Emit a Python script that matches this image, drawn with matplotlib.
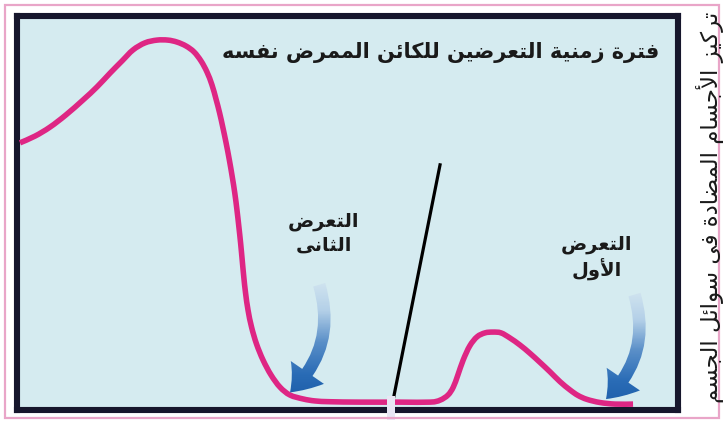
import numpy as np
import matplotlib
matplotlib.use("Agg")
import matplotlib.pyplot as plt
from matplotlib.patches import FancyArrowPatch, Rectangle, PathPatch
from matplotlib.path import Path

# ------------- DATA (arbitrary units 0..100) -------------
time = [0.45, 2.72, 5.0, 7.41, 10.0, 12.1, 14.07, 15.89, 17.55, 19.36, 21.18, 22.84, 24.21,
        25.57, 26.78, 27.84, 28.74, 29.50, 30.11, 30.65, 31.13, 31.63, 32.13, 32.57, 32.95,
        33.28, 33.57, 33.83, 34.07, 34.31, 34.58, 34.95, 35.48, 36.23, 37.22, 38.43, 39.79,
        41.3, 43.3, 45.1, 47.4, 51.9, 57.9, 62.5, 64.0, 65.2, 66.0, 66.7, 67.5, 68.5,
        69.6, 70.8, 72.0, 73.22, 74.58, 76.10, 77.61, 79.12, 80.64, 82.15, 83.66, 84.87,
        86.23, 88.20, 90.5, 93.2]
antibody = [67.9, 69.6, 71.9, 75.0, 78.8, 82.1, 85.6, 88.7, 91.5, 93.3, 94.0, 94.0, 93.5,
            92.5, 91.0, 88.7, 85.9, 82.6, 79.0, 75.5, 71.9, 67.9, 63.5, 59.2, 55.1,
            50.8, 46.5, 42.4, 38.1, 33.8, 29.7, 25.4, 21.1, 16.8, 12.7, 8.9, 5.8,
            3.8, 2.8, 2.3, 2.1, 2.0, 2.0, 2.0, 2.5, 3.8, 5.8, 8.9, 12.7, 16.3,
            18.6, 19.6, 19.8, 19.6, 18.3, 16.5, 14.4, 12.1, 9.7, 7.2, 5.1, 3.7,
            2.7, 1.9, 1.5, 1.5]

# divider between the two exposures (bottom, top)
divider_x = [56.6, 64.0]
divider_y = [0.0, 62.3]

# exposure arrows: (tail, tip)
arrow_second = [(45.6, 32.5), (41.0, 4.0)]
arrow_first = [(93.3, 30.0), (88.8, 2.3)]

title_text = "فترة زمنية التعرضين للكائن الممرض نفسه"
label_second = ["التعرض", "الثانى"]
label_first = ["التعرض", "الأول"]
ylabel_text = "تركيز الأجسام المضادة فى سوائل الجسم"

# ------------- minimal arabic shaping (matplotlib does no shaping) -------------
dual = {'ئ': 0xFE89, 'ب': 0xFE8F, 'ت': 0xFE95, 'ث': 0xFE99, 'ج': 0xFE9D, 'ح': 0xFEA1,
        'خ': 0xFEA5, 'س': 0xFEB1, 'ش': 0xFEB5, 'ص': 0xFEB9, 'ض': 0xFEBD, 'ط': 0xFEC1,
        'ظ': 0xFEC5, 'ع': 0xFEC9, 'غ': 0xFECD, 'ف': 0xFED1, 'ق': 0xFED5, 'ك': 0xFED9,
        'ل': 0xFEDD, 'م': 0xFEE1, 'ن': 0xFEE5, 'ه': 0xFEE9, 'ي': 0xFEF1}
right = {'آ': 0xFE81, 'أ': 0xFE83, 'ؤ': 0xFE85, 'إ': 0xFE87, 'ا': 0xFE8D, 'ة': 0xFE93,
         'د': 0xFEA9, 'ذ': 0xFEAB, 'ر': 0xFEAD, 'ز': 0xFEAF, 'و': 0xFEED, 'ى': 0xFEEF}
lam_alef = {'آ': 0xFEF5, 'أ': 0xFEF7, 'إ': 0xFEF9, 'ا': 0xFEFB}


def shape(text):
    items = []
    i = 0
    while i < len(text):
        c = text[i]
        if c == 'ل' and i + 1 < len(text) and text[i + 1] in lam_alef:
            items.append(('LA', text[i + 1]))
            i += 2
        else:
            items.append((c, None))
            i += 1

    def is_ar(it):
        return it[0] == 'LA' or it[0] in dual or it[0] in right

    out = []
    for k, it in enumerate(items):
        c = it[0]
        prev_ok = k > 0 and (items[k - 1][0] in dual) and is_ar(it)
        next_ok = c in dual and k + 1 < len(items) and is_ar(items[k + 1])
        if c == 'LA':
            out.append(chr(lam_alef[it[1]] + (1 if prev_ok else 0)))
        elif c in dual:
            idx = {(False, False): 0, (True, False): 1, (False, True): 2, (True, True): 3}[(prev_ok, next_ok)]
            out.append(chr(dual[c] + idx))
        elif c in right:
            out.append(chr(right[c] + (1 if prev_ok else 0)))
        else:
            out.append(c)
    return ''.join(reversed(out))


def shape_lines(lines):
    return "\n".join(shape(l) for l in lines)


def smooth_path(xs, ys):
    # catmull-rom through the read points, drawn as cubic bezier segments
    p = np.column_stack([xs, ys])
    p = np.vstack([p[0], p, p[-1]])
    verts = [p[1]]
    codes = [Path.MOVETO]
    for i in range(1, len(p) - 2):
        c1 = p[i] + (p[i + 1] - p[i - 1]) / 6
        c2 = p[i + 1] - (p[i + 2] - p[i]) / 6
        verts += [c1, c2, p[i + 1]]
        codes += [Path.CURVE4] * 3
    return Path(verts, codes)


# ------------- FIGURE -------------
W, H = 724, 423
fig = plt.figure(figsize=(W / 100, H / 100), dpi=100)
fig.patch.set_facecolor('white')

# pink outer frame
fig.patches.append(Rectangle((5 / W, 5 / H), 714 / W, 413 / H, transform=fig.transFigure,
                             fill=False, edgecolor='#e9a5c8', linewidth=1.6))

box_l, box_r, box_t, box_b = 17, 678, 16.5, 410
ax = fig.add_axes([box_l / W, (H - box_b) / H, (box_r - box_l) / W, (box_b - box_t) / H])
ax.set_facecolor('#d5ebf0')
for s in ax.spines.values():
    s.set_linewidth(4.4)
    s.set_color('#16162c')
ax.set_xticks([])
ax.set_yticks([])

# antibody curve
ax.add_patch(PathPatch(smooth_path(time, antibody), fill=False, edgecolor='#de2684',
                       lw=4.0, capstyle='butt', joinstyle='round', zorder=3))

# divider line
ax.plot(divider_x, divider_y, color='black', lw=2.3, zorder=4)
# small break notch on the baseline
ax.add_patch(Rectangle((56.05, -2.5), 1.1, 6.0, facecolor='#e8e6f4', edgecolor='none',
                       zorder=6, clip_on=False))


def grad_arrow(tail, tip):
    arr = FancyArrowPatch(tail, tip, connectionstyle="arc3,rad=-0.32",
                          arrowstyle="simple,tail_width=9,head_width=29,head_length=19",
                          facecolor='#2f6db4', edgecolor='none', zorder=5, alpha=0.0)
    ax.add_patch(arr)
    grad = np.linspace(0, 1, 100).reshape(-1, 1)
    cmap = matplotlib.colors.LinearSegmentedColormap.from_list(
        'ar', ['#1a5aa6', '#2a6cb6', '#5a8fc8', '#b4d0e8', '#d3e6f0'])
    x0 = min(tail[0], tip[0]) - 6
    x1 = max(tail[0], tip[0]) + 6
    im = ax.imshow(grad, cmap=cmap, aspect='auto', origin='lower',
                   extent=[x0, x1, tip[1] - 3, tail[1] + 1], zorder=5)
    im.set_clip_path(arr)


grad_arrow(*arrow_second)
grad_arrow(*arrow_first)

ax.set_xlim(0, 100)
ax.set_ylim(0, 100)

# texts
ax.text(97.2, 90.8, shape(title_text), ha='right', va='center', fontsize=15,
        fontweight='bold', color='#1a1a1a', family='DejaVu Sans', zorder=7)
ax.text(46.4, 45.0, shape_lines(label_second), ha='center', va='center', fontsize=14,
        fontweight='bold', color='#1a1a1a', family='DejaVu Sans', linespacing=1.3,
        multialignment='center', zorder=7)
ax.text(87.7, 38.6, shape_lines(label_first), ha='center', va='center', fontsize=14,
        fontweight='bold', color='#1a1a1a', family='DejaVu Sans', linespacing=1.3,
        multialignment='center', zorder=7)

fig.text(710 / W, 1 - 12 / H, shape(ylabel_text), rotation=90, ha='center', va='top',
         fontsize=16.5, color='#1a1a1a', family='DejaVu Sans')

fig.savefig('out.png', dpi=100)
